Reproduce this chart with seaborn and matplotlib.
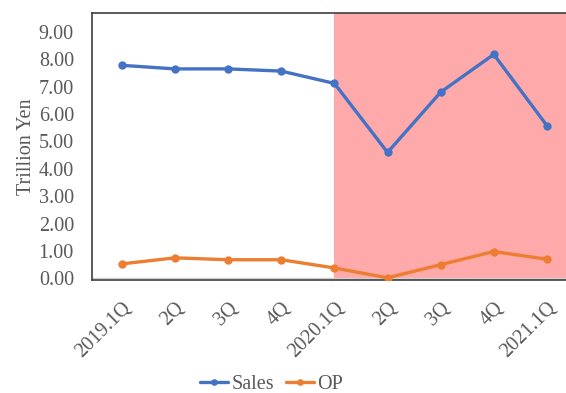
import matplotlib
matplotlib.use("Agg")
import matplotlib.pyplot as plt
import seaborn as sns
import pandas as pd

quarters = ["2019.1Q", "2Q", "3Q", "4Q", "2020.1Q", "2Q", "3Q", "4Q", "2021.1Q"]
sales = [7.78, 7.65, 7.65, 7.57, 7.12, 4.60, 6.80, 8.18, 5.58]
op = [0.53, 0.75, 0.68, 0.68, 0.38, 0.02, 0.50, 0.98, 0.70]
y_ticks = [0, 1, 2, 3, 4, 5, 6, 7, 8, 9]

sns.set_theme(style="white")
plt.rcParams["font.family"] = ["Liberation Serif", "DejaVu Serif"]

pos = list(range(len(quarters)))
df = pd.DataFrame({
    "pos": pos * 2,
    "value": sales + op,
    "series": ["Sales"] * len(pos) + ["OP"] * len(pos),
})

fig = plt.figure(figsize=(5.66, 3.93), dpi=100)
ax = fig.add_axes([0.1625, 0.2875, 0.8375, 0.68])

ax.axvspan(4, 9, color="#FFAAAA", zorder=0, lw=0)
ax.axhline(0, color="#D0D0D0", lw=1, zorder=1)

sns.lineplot(data=df, x="pos", y="value", hue="series",
             palette={"Sales": "#4472C4", "OP": "#ED7D31"},
             marker="o", markersize=6, markeredgewidth=0, linewidth=2.4,
             ax=ax, zorder=3)

ax.set_xlim(-0.565, 8.36)
ax.set_ylim(-0.06, 9.7)
ax.set_yticks(y_ticks)
ax.set_yticklabels([f"{v:.2f}" for v in y_ticks], fontsize=14.5, color="#595959")
ax.set_xticks(pos)
ax.set_xticklabels(quarters, rotation=45, ha="right", rotation_mode="anchor",
                   fontsize=14.5, color="#595959")
ax.tick_params(axis="both", length=0)
ax.tick_params(axis="y", pad=13)
ax.tick_params(axis="x", pad=13)
ax.set_xlabel("")
ax.set_ylabel("Trillion Yen", fontsize=14.5, color="#595959", labelpad=2)

for s in ax.spines.values():
    s.set_color("#404040")
    s.set_linewidth(1.2)
ax.spines["right"].set_visible(False)

handles, labels = ax.get_legend_handles_labels()
ax.get_legend().remove()
fig.legend(handles, labels, loc="center", bbox_to_anchor=(0.48, 0.022), ncol=2,
           frameon=False, fontsize=14.5, handlelength=1.4, handletextpad=0.15,
           columnspacing=0.6, labelcolor="#595959", markerscale=0.8)

fig.savefig("out.png", dpi=100)
